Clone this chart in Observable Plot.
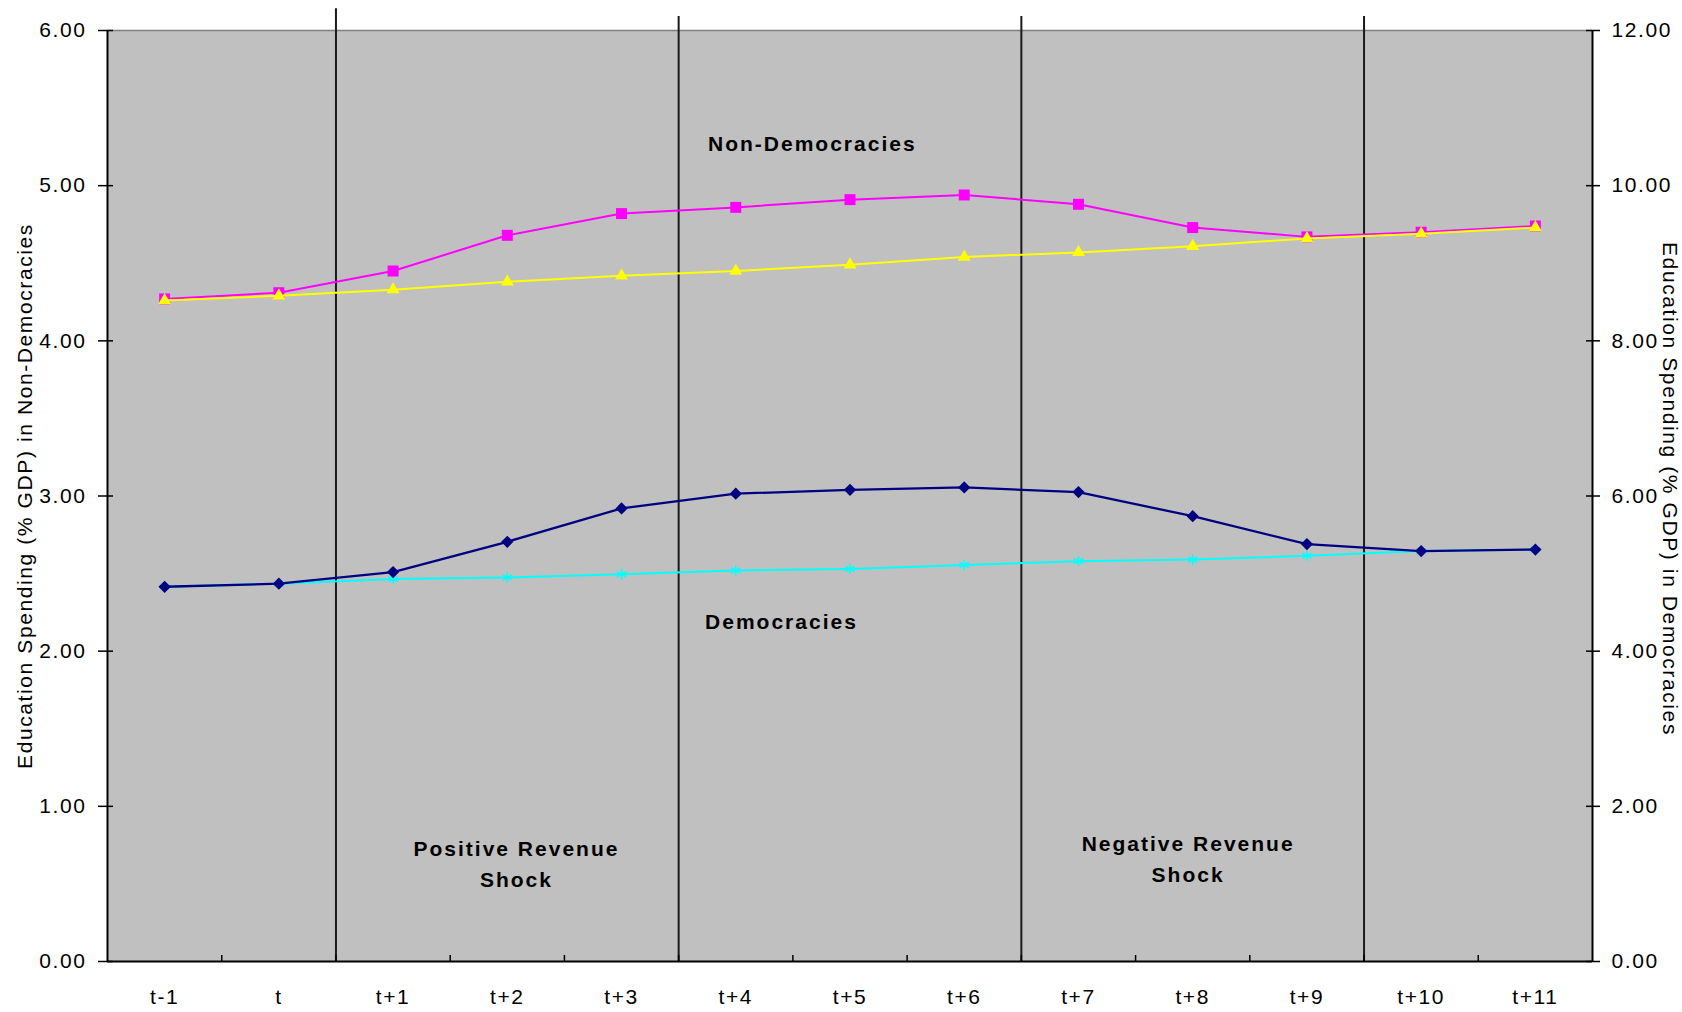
<!DOCTYPE html>
<html><head><meta charset="utf-8">
<script src="https://cdn.jsdelivr.net/npm/d3@7"></script>
<script src="https://cdn.jsdelivr.net/npm/@observablehq/plot@0.6"></script>
<style>
html,body{margin:0;padding:0;background:#fff;}
g[font-weight="bold"] text{letter-spacing:2px;}
</style>
</head><body><div id="chart"></div>
<script>
// Periods relative to the revenue shock
const labels = ["t-1","t","t+1","t+2","t+3","t+4","t+5","t+6","t+7","t+8","t+9","t+10","t+11"];
// Non-democracies, left axis (% GDP)
const nonDemocracies      = [4.27, 4.31, 4.45, 4.68, 4.82, 4.86, 4.91, 4.94, 4.88, 4.73, 4.67, 4.70, 4.74];
const nonDemocraciesTrend = [4.26, 4.29, 4.33, 4.38, 4.42, 4.45, 4.49, 4.54, 4.57, 4.61, 4.66, 4.69, 4.73];
// Democracies, right axis (% GDP)
const democracies         = [4.83, 4.87, 5.02, 5.41, 5.84, 6.03, 6.08, 6.11, 6.05, 5.74, 5.38, 5.29, 5.31];
const democraciesTrend    = [4.83, 4.87, 4.93, 4.95, 4.99, 5.04, 5.06, 5.11, 5.16, 5.18, 5.23, 5.29, 5.31];
// Axis ticks
const leftTicks  = [0, 1, 2, 3, 4, 5, 6];
const rightTicks = [0, 2, 4, 6, 8, 10, 12];
// Phase boundaries (between periods)
const shockLines = [{at: 1.5, top: 6.14}, {at: 4.5, top: 6.09}, {at: 7.5, top: 6.09}, {at: 10.5, top: 6.09}];
// Annotations (x in period index, y in left-axis units)
const annotations = [
  {text: "Non-Democracies", x: 5.67, y: 5.29},
  {text: "Democracies", x: 5.40, y: 2.21},
  {text: "Positive Revenue\nShock", x: 3.08, y: 0.642},
  {text: "Negative Revenue\nShock", x: 8.96, y: 0.677}
];
const leftTitle = "Education Spending (% GDP) in Non-Democracies";
const rightTitle = "Education Spending (% GDP) in Democracies";

const rightScale = 2; // right axis 0–12 maps onto left 0–6
const rows = labels.map((label, i) => ({
  i, label,
  nonDem: nonDemocracies[i],
  nonDemTrend: nonDemocraciesTrend[i],
  dem: democracies[i] / rightScale,
  demTrend: democraciesTrend[i] / rightScale
}));
const boundaryTicks = labels.slice(1).map((_, i) => i + 0.5);

const chart = Plot.plot({
  width: 1682, height: 1012,
  marginLeft: 107, marginRight: 90, marginTop: 30, marginBottom: 51,
  style: {fontFamily: "'Liberation Sans', Arial, sans-serif", fontSize: "21px", background: "#fff", color: "#000", letterSpacing: "1.6px", overflow: "visible"},
  x: {type: "linear", domain: [-0.5, labels.length - 0.5]},
  y: {domain: [0, 6]},
  marks: [
    Plot.frame({fill: "#c0c0c0", stroke: null}),
    Plot.ruleY([6], {stroke: "#808080", strokeWidth: 1.5}),
    Plot.ruleX(shockLines, {x: "at", y1: 0, y2: "top", stroke: "#1a1a1a", strokeWidth: 2}),
    // Non-democracies
    Plot.line(rows, {x: "i", y: "nonDem", stroke: "#ff00ff", strokeWidth: 2}),
    Plot.dot(rows, {x: "i", y: "nonDem", symbol: "square", fill: "#ff00ff", r: 6.2}),
    Plot.line(rows, {x: "i", y: "nonDemTrend", stroke: "#ffff00", strokeWidth: 2}),
    Plot.dot(rows, {x: "i", y: "nonDemTrend", symbol: "triangle", fill: "#ffff00", r: 4.8}),
    // Democracies
    Plot.line(rows, {x: "i", y: "demTrend", stroke: "#00ffff", strokeWidth: 2}),
    Plot.dot(rows, {x: "i", y: "demTrend", symbol: "asterisk", stroke: "#00ffff", strokeWidth: 1.5, r: 5}),
    Plot.line(rows, {x: "i", y: "dem", stroke: "#000080", strokeWidth: 2.3}),
    Plot.dot(rows, {x: "i", y: "dem", symbol: "square", fill: "#000080", r: 4.9, rotate: 45}),
    // axes lines
    Plot.ruleY([0], {stroke: "#000", strokeWidth: 2}),
    Plot.ruleX([-0.5], {stroke: "#000", strokeWidth: 2}),
    Plot.ruleX([labels.length - 0.5], {stroke: "#000", strokeWidth: 2}),
    // left axis
    Plot.axisY({anchor: "left", ticks: leftTicks, tickSize: 15, dx: 6, tickPadding: 12, tickFormat: d => d.toFixed(2), label: null, strokeWidth: 1.5}),
    // right axis
    Plot.axisY({anchor: "right", ticks: rightTicks.map(v => v / rightScale), tickSize: 14, dx: -7, tickPadding: 12, tickFormat: d => (d * rightScale).toFixed(2), label: null, strokeWidth: 1.5}),
    // x axis labels and boundary ticks
    Plot.axisX({anchor: "bottom", ticks: labels.map((_, i) => i), tickSize: 0, tickPadding: 28, tickFormat: i => labels[i], label: null}),
    Plot.axisX({anchor: "bottom", ticks: boundaryTicks, tickSize: 6, dy: -6, tickFormat: () => "", label: null, strokeWidth: 1.5}),
    // axis titles
    Plot.text([leftTitle], {frameAnchor: "left", textAnchor: "middle", dx: -82, rotate: -90, text: d => d}),
    Plot.text([rightTitle], {frameAnchor: "right", textAnchor: "middle", dx: 77, dy: -7, rotate: 90, text: d => d}),
    // annotations
    Plot.text(annotations, {x: "x", y: "y", text: "text", fontWeight: "bold", lineHeight: 1.48})
  ]
});
document.getElementById("chart").appendChild(chart);
</script>
</body></html>
